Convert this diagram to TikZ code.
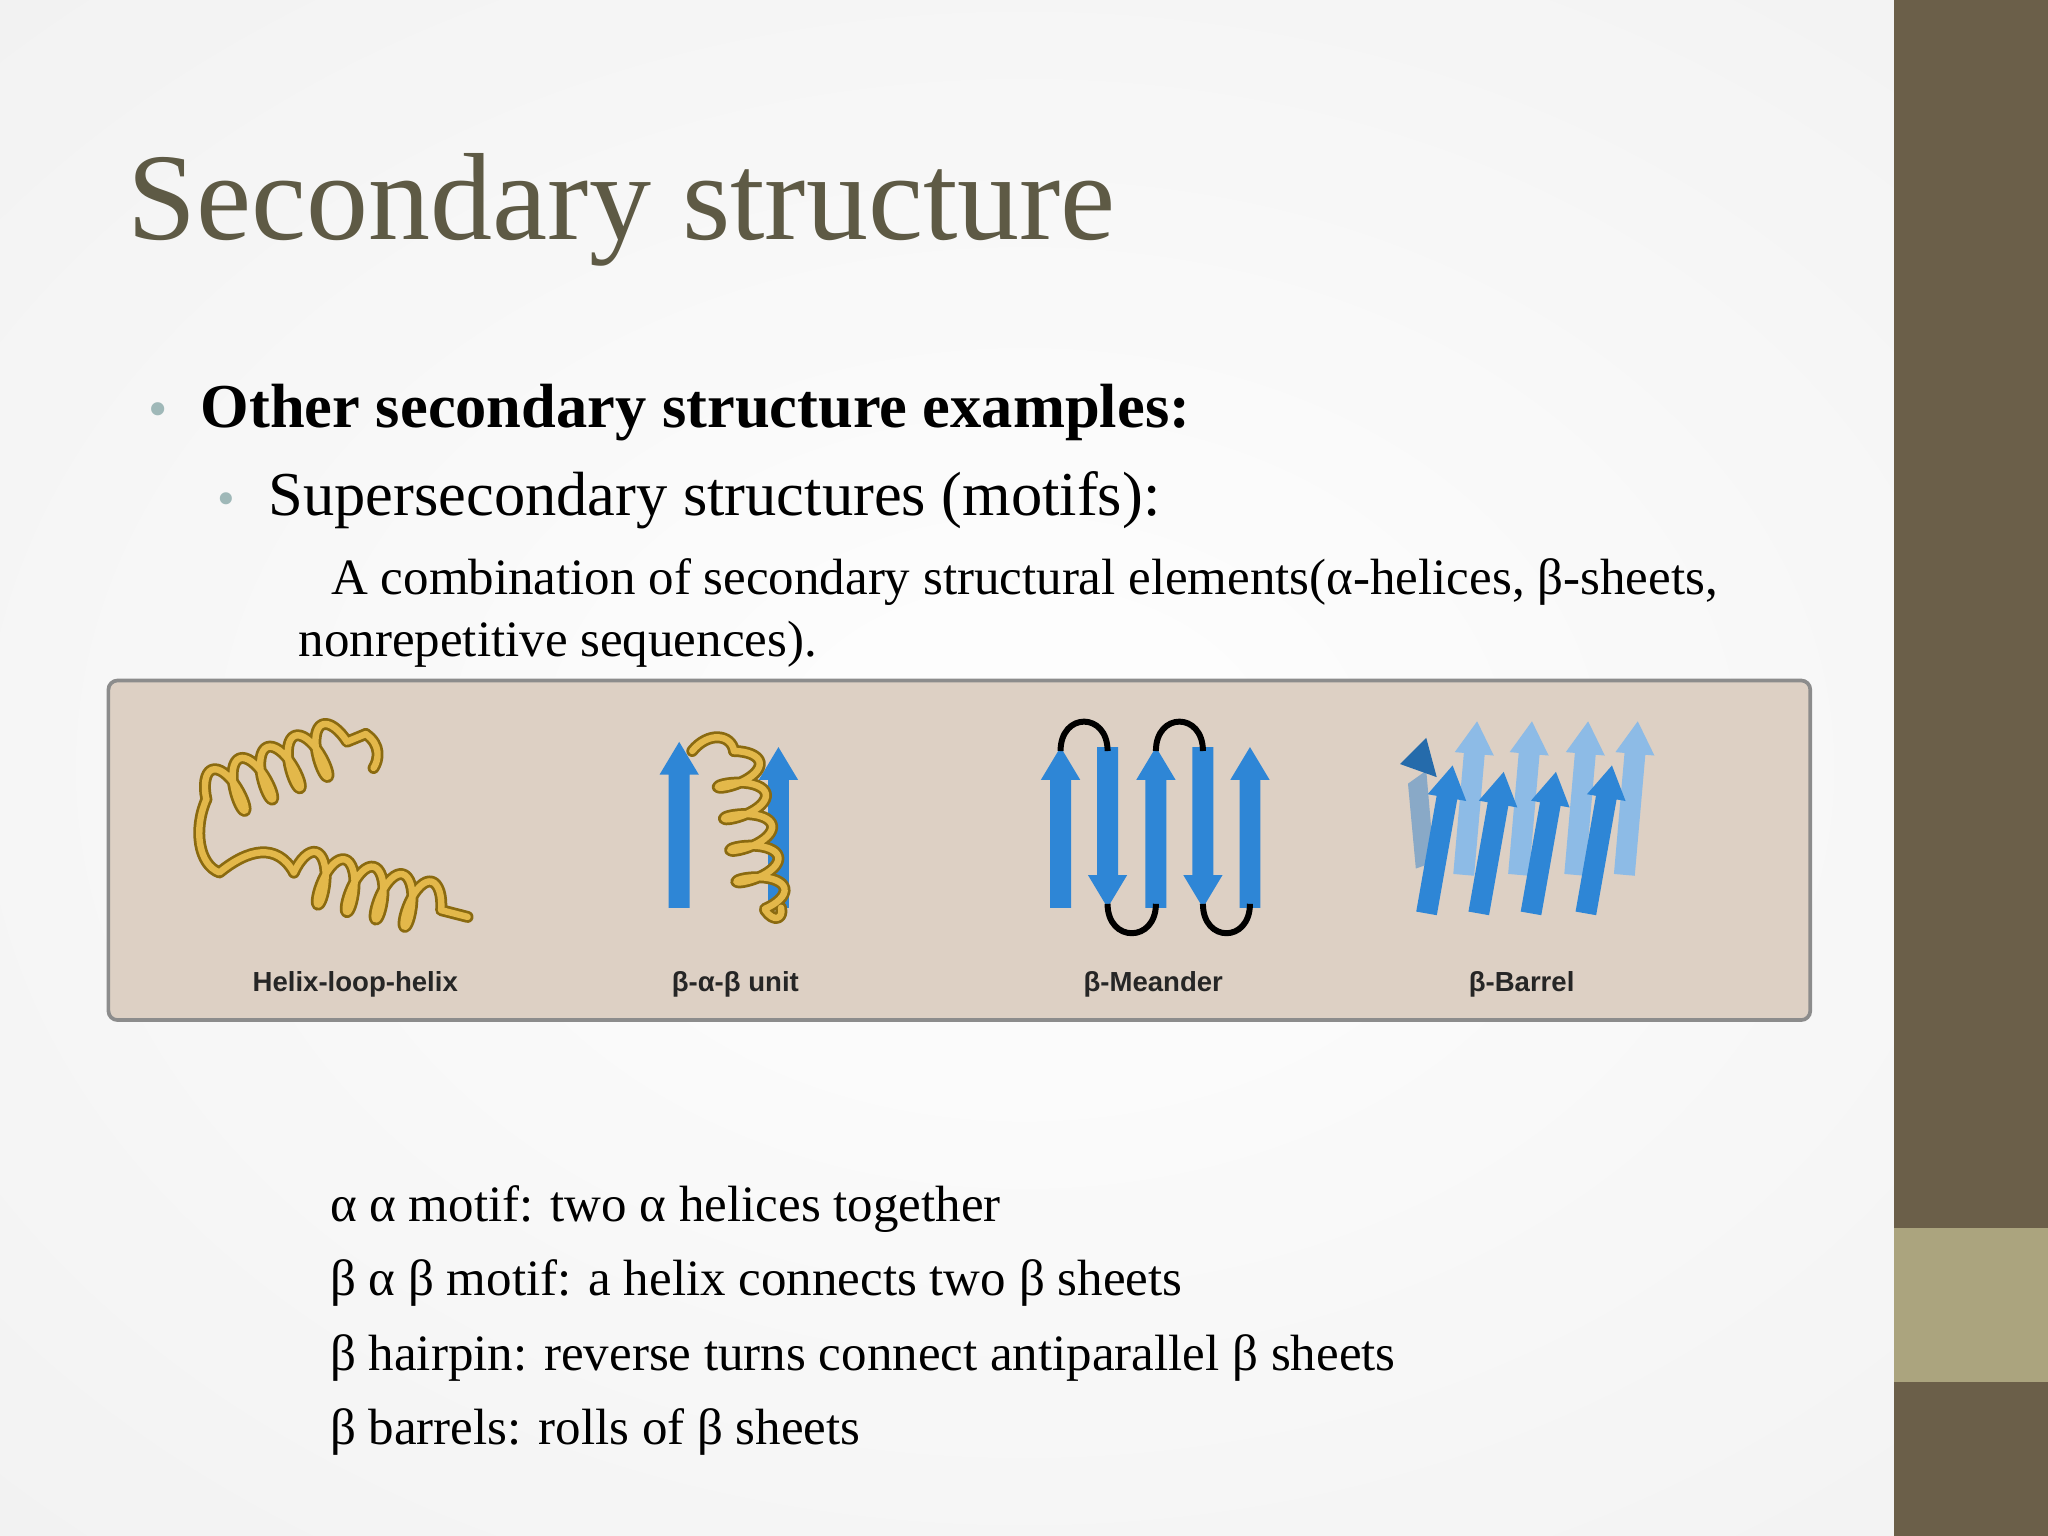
\documentclass[tikz,border=0pt]{standalone}
\usepackage{fontspec}
\setmainfont{Liberation Serif}
\newfontfamily\lab{Liberation Sans}
\usetikzlibrary{decorations.pathmorphing}
\definecolor{olive}{HTML}{5E5A45}
\definecolor{barD}{HTML}{6B5F49}
\definecolor{barL}{HTML}{ABA47E}
\definecolor{panel}{HTML}{DDD0C4}
\definecolor{bblue}{HTML}{2E86D6}
\definecolor{lblue}{HTML}{8DBBE6}
\definecolor{gold}{HTML}{E3B84A}
\definecolor{golddk}{HTML}{8A6A10}
\definecolor{bul}{HTML}{9FB8B8}
\tikzset{
 txt/.style={anchor=base west,inner sep=0pt,text=black},
 lbl/.style={anchor=base,inner sep=0pt,font=\lab\bfseries\fontsize{6}{7}\selectfont,text=black!85},
 goldout/.style={draw=golddk,line width=2.6pt,line cap=round,line join=round},
 goldin/.style={draw=gold,line width=1.4pt,line cap=round,line join=round},
 coilA/.style={decorate,decoration={coil,aspect=0.35,segment length=6.5pt,amplitude=5.5pt}},
}
\newcommand\uarr[4]{\fill[#4] (#1-8,#2) -- (#1+8,#2) -- (#1+8,#3+25) -- (#1+15,#3+25) -- (#1,#3) -- (#1-15,#3+25) -- (#1-8,#3+25) -- cycle;}
\newcommand\darr[4]{\fill[#4] (#1-8,#2) -- (#1+8,#2) -- (#1+8,#3-25) -- (#1+15,#3-25) -- (#1,#3) -- (#1-15,#3-25) -- (#1-8,#3-25) -- cycle;}
\begin{document}
\begin{tikzpicture}[x=0.01cm,y=-0.01cm]
\useasboundingbox (0,0) rectangle (1568,1176);
\shade[inner color=white,outer color=black!12] (-300,-200) rectangle (1868,1376);
\fill[white,opacity=0.6] (0,0) rectangle (1450,1176);
\fill[barD] (1450,0) rectangle (1568,1176);
\fill[barL] (1450,940) rectangle (1568,1058);
\node[txt,text=olive,font=\fontsize{27}{30}\selectfont] (title) at (97,183) {Secondary structure};
\node[txt,text=bul,font=\fontsize{12}{14}\selectfont] (b1) at (113,327) {•};
\node[txt,font=\bfseries\fontsize{13.6}{16}\selectfont] (t1) at (153,327) {Other secondary structure examples:};
\node[txt,text=bul,font=\fontsize{11}{13}\selectfont] (b2) at (166,395) {•};
\node[txt,font=\fontsize{13.6}{16}\selectfont] (t2) at (205,395) {Supersecondary structures (motifs):};
\node[txt,font=\fontsize{11.1}{13}\selectfont] (t3) at (253,455) {A combination of secondary structural elements(α-helices, β-sheets,};
\node[txt,font=\fontsize{11.1}{13}\selectfont] (t4) at (228,503) {nonrepetitive sequences).};
% panel
\draw[draw=black!45,fill=panel,line width=0.8pt,rounded corners=2pt] (83,521) rectangle (1386,781);
\node[lbl] (l1) at (272,759) {Helix-loop-helix};
\node[lbl] (l2) at (563,759) {β-α-β unit};
\node[lbl] (l3) at (883,759) {β-Meander};
\node[lbl] (l4) at (1165,759) {β-Barrel};
% helix-loop-helix
\foreach \s in {goldout,goldin}{
 \draw[\s,coilA] (158,612) -- (280,562);
 \draw[\s] (280,562) .. controls (292,570) and (290,582) .. (286,588);
 \draw[\s] (158,612) .. controls (148,635) and (152,662) .. (168,668) .. controls (190,650) and (212,645) .. (225,668);
 \draw[\s,coilA] (225,668) -- (358,702);
}
% beta-alpha-beta
\uarr{520}{695}{568}{bblue}
\uarr{596}{695}{572}{bblue}
\foreach \s in {goldout,goldin}{
 \draw[\s] (530,575) .. controls (542,560) and (560,562) .. (562,575);
 \draw[\s,decorate,decoration={coil,aspect=0.35,segment length=7pt,amplitude=5pt}] (562,575) -- (586,697);
 \draw[\s] (586,697) .. controls (592,706) and (600,704) .. (598,695);
}
% meander
\uarr{812}{695}{572}{bblue}
\darr{848}{572}{695}{bblue}
\uarr{885}{695}{572}{bblue}
\darr{921}{572}{695}{bblue}
\uarr{957}{695}{572}{bblue}
\draw[line width=1.3pt] (812,575) .. controls (812,545) and (848,545) .. (848,575);
\draw[line width=1.3pt] (885,575) .. controls (885,545) and (921,545) .. (921,575);
\draw[line width=1.3pt] (848,692) .. controls (848,722) and (885,722) .. (885,692);
\draw[line width=1.3pt] (921,692) .. controls (921,722) and (957,722) .. (957,692);
% barrel back
\foreach \x in {1125,1167,1210,1248}{
 \begin{scope}[shift={(\x,620)},rotate=-5]
 \uarr{0}{50}{-68}{lblue}
 \end{scope}
}
\fill[lblue!70!gray] (1078,600) -- (1092,590) -- (1098,660) -- (1084,665) -- cycle;
\fill[bblue!80!black] (1072,585) -- (1092,565) -- (1100,595) -- cycle;
\foreach \x/\h in {1100/70,1140/65,1180/65,1222/70}{
 \begin{scope}[shift={(\x,655)},rotate=-10]
 \uarr{0}{45}{-\h}{bblue}
 \end{scope}
}
% bottom text
\node[txt,font=\fontsize{11.1}{13}\selectfont] (m1) at (252,935) {α α motif: two α helices together};
\node[txt,font=\fontsize{11.1}{13}\selectfont] (m2) at (252,992) {β α β motif: a helix connects two β sheets};
\node[txt,font=\fontsize{11.1}{13}\selectfont] (m3) at (252,1049) {β hairpin: reverse turns connect antiparallel β sheets};
\node[txt,font=\fontsize{11.1}{13}\selectfont] (m4) at (252,1106) {β barrels: rolls of β sheets};
\end{tikzpicture}
\end{document}
